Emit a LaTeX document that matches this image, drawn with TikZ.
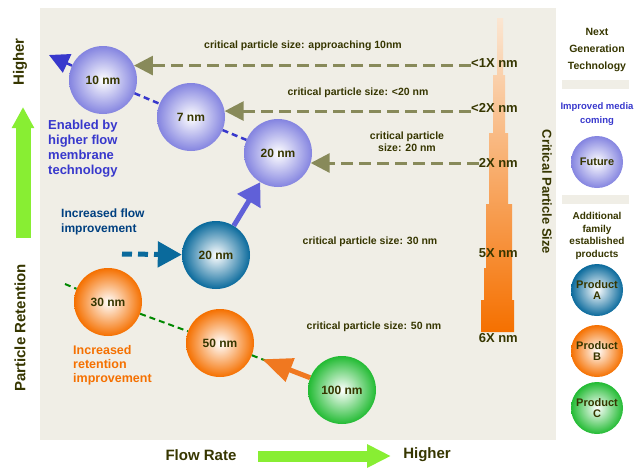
\documentclass[tikz,border=0pt]{standalone}
\usepackage{fontspec}
\setmainfont{Liberation Sans}
\usetikzlibrary{arrows.meta}
\definecolor{panel}{HTML}{F0EEE6}
\definecolor{darkolive}{HTML}{363600}
\definecolor{olivearrow}{HTML}{888A5A}
\definecolor{bubbleblue}{HTML}{8484E0}
\definecolor{bubbleteal}{HTML}{0A6A9C}
\definecolor{bubbleorange}{HTML}{F57000}
\definecolor{bubblegreen}{HTML}{22BB33}
\definecolor{textblue}{HTML}{3838CC}
\definecolor{textteal}{HTML}{004080}
\definecolor{arrowblue}{HTML}{6060D8}
\definecolor{arroworange}{HTML}{F07820}
\definecolor{linegreen}{HTML}{008800}
\definecolor{axisgreen}{HTML}{88EE33}
\definecolor{scaletop}{HTML}{FBE6D2}
\tikzstyle{bubble}=[circle, inner sep=0pt, minimum size=68pt, text=darkolive, font=\bfseries\fontsize{12}{13}\selectfont]
\tikzstyle{sbubble}=[bubble, minimum size=52pt, align=center, font=\bfseries\fontsize{11}{11}\selectfont]
\tikzstyle{bblue}=[inner color=white, outer color=bubbleblue]
\tikzstyle{bteal}=[inner color=white, outer color=bubbleteal]
\tikzstyle{borange}=[inner color=white, outer color=bubbleorange]
\tikzstyle{bgreen}=[inner color=white, outer color=bubblegreen]
\tikzstyle{sizelabel}=[text=darkolive, font=\bfseries\fontsize{10.5}{12}\selectfont, align=center]
\tikzstyle{scalelabel}=[text=darkolive, font=\bfseries\fontsize{13}{14}\selectfont, anchor=east, inner sep=0pt]
\tikzstyle{note}=[font=\bfseries\fontsize{12}{15}\selectfont, align=left, anchor=north west, inner sep=0pt]
\tikzstyle{axislabel}=[text=darkolive, font=\bfseries\fontsize{15}{18}\selectfont, inner sep=0pt]
\tikzstyle{legendtext}=[text=darkolive, font=\bfseries\fontsize{10}{12.5}\selectfont, align=center]
\tikzstyle{sizearrow}=[draw=olivearrow, line width=3pt, dash pattern=on 12pt off 6pt, -{Triangle[length=19pt, width=19pt]}]

\begin{document}
\begin{tikzpicture}[x=1pt, y=-1pt]
        \useasboundingbox (0,0) rectangle (637,469);
        % panels
        \fill[panel] (40,8) rectangle (556,440);
        \fill[panel] (562,80) rectangle (629,89);
        \fill[panel] (562,195) rectangle (629,204);
        % critical size scale
        \shade[top color=scaletop, bottom color=bubbleorange] (497,18) -- (503,18) -- (503,75) -- (505,75) -- (505,133) -- (508,133) -- (508,204) -- (512,204) -- (512,300) -- (514,300) -- (514,332) -- (481,332) -- (481,300) -- (484,300) -- (484,268) -- (486,268) -- (486,204) -- (489,204) -- (489,133) -- (493,133) -- (493,75) -- (497,75) -- cycle;
        \node[scalelabel] (s1) at (518,63) {<1X nm};
        \node[scalelabel] (s2) at (518,108) {<2X nm};
        \node[scalelabel] (s3) at (518,163) {2X nm};
        \node[scalelabel] (s4) at (518,253) {5X nm};
        \node[scalelabel] (s5) at (518,338) {6X nm};
        \node[text=darkolive, font=\bfseries\fontsize{13}{14}\selectfont, rotate=-90] (crit) at (547,192) {Critical Particle Size};
        % bubbles
        \node[bubble, bblue] (B1) at (103,80) {10 nm};
        \node[bubble, bblue] (B2) at (191,117) {7 nm};
        \node[bubble, bblue] (B3) at (278,153) {20 nm};
        \node[bubble, bteal] (T1) at (216,255) {20 nm};
        \node[bubble, borange] (O1) at (108,302) {30 nm};
        \node[bubble, borange] (O2) at (220,343) {50 nm};
        \node[bubble, bgreen] (G1) at (342,390) {100 nm};
        % size labels
        \node[sizelabel] (L1) at (303,46) {critical particle size: approaching 10nm};
        \node[sizelabel] (L2) at (358,93) {critical particle size: <20 nm};
        \node[sizelabel, font=\bfseries\fontsize{10.5}{12}\selectfont] (L3) at (407,142) {critical particle\\size: 20 nm};
        \node[sizelabel] (L4) at (370,242) {critical particle size: 30 nm};
        \node[sizelabel] (L5) at (374,327) {critical particle size: 50 nm};
        % notes
        \node[note, text=textblue, font=\bfseries\fontsize{13}{15}\selectfont] (N1) at (48,120) {Enabled by\\higher flow\\membrane\\technology};
        \node[note, text=textteal] (N2) at (61,209) {Increased flow\\improvement};
        \node[note, text=bubbleorange, font=\bfseries\fontsize{12.5}{14}\selectfont] (N3) at (73,345) {Increased\\retention\\improvement};
        % connectors
        \coordinate (TL) at (49,55);
        \coordinate (TIN) at (122,254);
        \coordinate (GIN) at (65,284);
        \draw[textblue, line width=2.5pt, dash pattern=on 6pt off 4pt] (B1) -- (B2) -- (B3);
        \draw[textblue, line width=2.5pt, -{Triangle[length=20pt, width=20pt]}] (B1) -- (TL);
        \draw[linegreen, line width=2pt, dash pattern=on 6pt off 4pt] (GIN) -- (O1) -- (O2) -- (G1);
        \draw[sizearrow] (B1.25 -| s1.west) -- (B1.25);
        \draw[sizearrow] (B2.10 -| s2.west) -- (B2.10);
        \draw[sizearrow] (B3.-17 -| s3.west) -- (B3.-17);
        \draw[bubbleteal, line width=5pt, dash pattern=on 10pt off 6pt, -{Triangle[length=24pt, width=25pt]}] (TIN) -- (T1);
        \draw[arrowblue, line width=5pt, -{Triangle[length=22pt, width=26pt]}] (T1) -- (B3);
        \draw[arroworange, line width=5pt, shorten >=11pt, -{Triangle[length=30pt, width=24pt]}] (G1) -- (O2);
        % axes
        \node[axislabel, rotate=90] (hy) at (20,62) {Higher};
        \node[axislabel, rotate=90] (py) at (20,328) {Particle Retention};
        \coordinate (ya) at (23,238);
        \coordinate (yb) at (23,107);
        \draw[axisgreen, line width=15pt, -{Triangle[length=21pt, width=21pt]}] (ya) -- (yb);
        \node[axislabel] (fx) at (201,455) {Flow Rate};
        \node[axislabel] (hx) at (427,455) {Higher};
        \coordinate (xa) at (258,456);
        \coordinate (xb) at (391,456);
        \draw[axisgreen, line width=11pt, -{Triangle[length=24pt, width=22pt]}] (xa) -- (xb);
        % legend
        \node[legendtext, font=\bfseries\fontsize{10.5}{17}\selectfont] (NG) at (597,50) {Next\\Generation\\Technology};
        \node[legendtext, text=textblue, font=\bfseries\fontsize{9.5}{14}\selectfont] (LB) at (597,114) {Improved media\\coming};
        \node[sbubble, bblue] (KB) at (597,162) {Future};
        \node[legendtext] (LD) at (597,236) {Additional\\family\\established\\products};
        \node[sbubble, bteal] (KT) at (597,290) {Product\\A};
        \node[sbubble, borange] (KO) at (597,351) {Product\\B};
        \node[sbubble, bgreen] (KG) at (597,408) {Product\\C};
    \end{tikzpicture}
\end{document}
